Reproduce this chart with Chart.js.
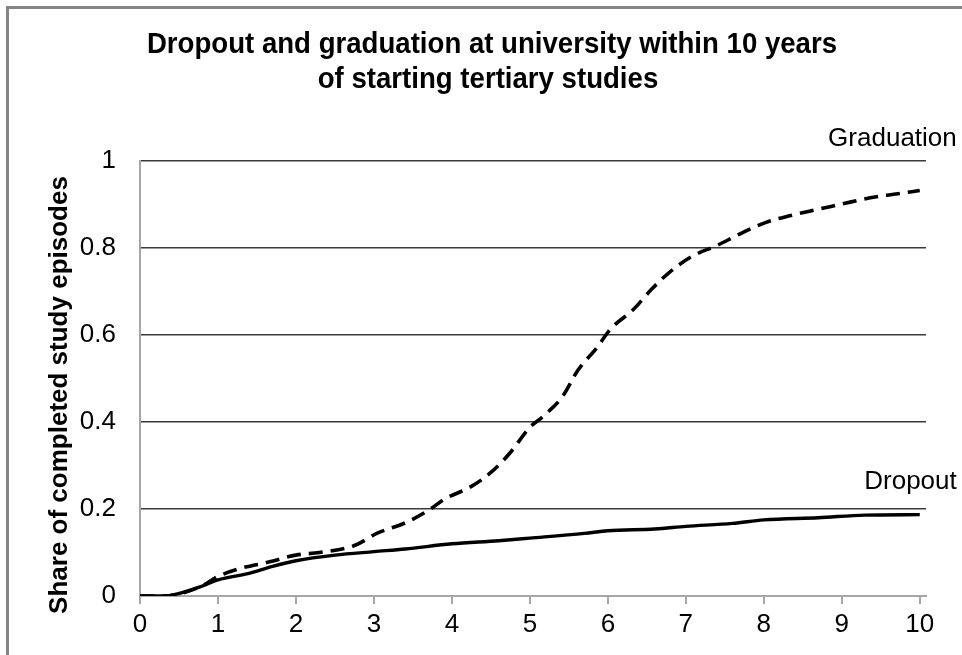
<!DOCTYPE html>
<html>
<head>
<meta charset="utf-8">
<title>Dropout and graduation</title>
<script src="https://cdn.jsdelivr.net/npm/chart.js@4"></script>
<style>
    body { margin: 0; background: #fff; }
    canvas { display: block; }
</style>
</head>
<body>
<canvas id="chart" width="962" height="655"></canvas>
<script>
// years since start of tertiary studies
const gradYears = [0, 0.3, 0.77, 1.0, 1.3, 1.65, 2.0, 2.3, 2.75, 3.05, 3.4, 3.7, 3.9, 4.25, 4.5, 4.75, 5.0, 5.17, 5.42, 5.62, 5.86, 6.03, 6.33, 6.56, 6.79, 7.09, 7.39, 7.69, 8.03, 8.33, 8.67, 9.0, 9.35, 9.69, 10.0];
const gradShare = [0, 0, 0.021, 0.045, 0.064, 0.078, 0.094, 0.1, 0.116, 0.145, 0.168, 0.197, 0.222, 0.252, 0.284, 0.33, 0.388, 0.413, 0.459, 0.52, 0.571, 0.613, 0.659, 0.705, 0.744, 0.782, 0.805, 0.832, 0.859, 0.874, 0.888, 0.901, 0.915, 0.924, 0.932];

const dropYears = [0, 0.3, 0.77, 1.0, 1.4, 1.7, 2.0, 2.5, 3.0, 3.4, 4.0, 4.6, 5.0, 5.7, 6.0, 6.6, 7.0, 7.6, 8.0, 8.7, 9.3, 10.0];
const dropShare = [0, 0, 0.021, 0.037, 0.052, 0.068, 0.081, 0.094, 0.102, 0.108, 0.12, 0.127, 0.133, 0.144, 0.15, 0.154, 0.16, 0.167, 0.175, 0.18, 0.186, 0.187];

const titleLines = ['Dropout and graduation at university within 10 years', 'of starting tertiary studies'];
const yTitle = 'Share of completed study episodes';
const seriesNames = ['Graduation', 'Dropout'];

const FONT = "'Liberation Sans', Arial, sans-serif";

function toPoints(xs, ys) {
    return xs.map((x, i) => ({ x: x, y: ys[i] }));
}

// title, axis title, line labels and the frame
const textPlugin = {
    id: 'texts',
    beforeDraw(chart) {
        const ctx = chart.ctx;
        ctx.save();
        ctx.strokeStyle = '#858585';
        ctx.lineWidth = 3;
        ctx.beginPath();
        ctx.moveTo(7.5, chart.height);
        ctx.lineTo(7.5, 7.5);
        ctx.lineTo(chart.width, 7.5);
        ctx.stroke();
        ctx.restore();
    },
    afterDraw(chart) {
        const ctx = chart.ctx;
        const xs = chart.scales.x;
        const ys = chart.scales.y;
        ctx.save();
        ctx.fillStyle = '#000';
        ctx.textAlign = 'center';
        ctx.textBaseline = 'middle';

        // the title in the picture is a narrow bold face
        ctx.save();
        ctx.scale(0.92, 1);
        ctx.font = 'bold 30px ' + FONT;
        ctx.fillText(titleLines[0], 492 / 0.92, 45);
        ctx.fillText(titleLines[1], 488 / 0.92, 80);
        ctx.restore();

        ctx.save();
        ctx.translate(60, 395);
        ctx.rotate(-Math.PI / 2);
        ctx.font = 'bold 26px ' + FONT;
        ctx.fillText(yTitle, 0, 0);
        ctx.restore();

        ctx.font = '26px ' + FONT;
        ctx.textAlign = 'right';
        const right = xs.getPixelForValue(10) + 37;
        ctx.fillText(seriesNames[0], right, ys.getPixelForValue(1) - 22);
        ctx.fillText(seriesNames[1], right, ys.getPixelForValue(0.2) - 27);
        ctx.restore();
    }
};

const ctx = document.getElementById('chart').getContext('2d');

new Chart(ctx, {
    type: 'line',
    data: {
        datasets: [{
            label: seriesNames[0],
            data: toPoints(gradYears, gradShare),
            borderColor: '#000',
            borderWidth: 3.6,
            borderDash: [14, 8],
            pointRadius: 0,
            cubicInterpolationMode: 'monotone',
            fill: false
        }, {
            label: seriesNames[1],
            data: toPoints(dropYears, dropShare),
            borderColor: '#000',
            borderWidth: 3.4,
            pointRadius: 0,
            cubicInterpolationMode: 'monotone',
            fill: false
        }]
    },
    options: {
        responsive: false,
        animation: false,
        layout: {
            padding: { top: 161, right: 36, left: 0, bottom: 0 }
        },
        plugins: {
            legend: { display: false },
            tooltip: { enabled: false },
            title: { display: false }
        },
        scales: {
            x: {
                type: 'linear',
                min: 0,
                max: 10.08,
                afterFit: scale => { scale.height = 59; },
                grid: {
                    drawOnChartArea: false,
                    drawTicks: true,
                    tickLength: 8,
                    color: '#a6a6a6',
                    lineWidth: 2
                },
                border: { display: true, color: '#a6a6a6', width: 2 },
                ticks: {
                    stepSize: 1,
                    includeBounds: false,
                    color: '#000',
                    padding: 5,
                    maxRotation: 0,
                    font: { family: FONT, size: 26 }
                }
            },
            y: {
                min: 0,
                max: 1,
                afterFit: scale => { scale.width = 140; },
                grid: {
                    drawTicks: false,
                    color: c => c.tick.value === 0 ? 'rgba(0,0,0,0)' : '#3a3a3a',
                    lineWidth: 1.5
                },
                border: { display: true, color: '#a6a6a6', width: 2 },
                ticks: {
                    stepSize: 0.2,
                    color: '#000',
                    padding: 24,
                    font: { family: FONT, size: 26 },
                    callback: v => String(Number(v.toFixed(1)))
                }
            }
        }
    },
    plugins: [textPlugin]
});
</script>
</body>
</html>
